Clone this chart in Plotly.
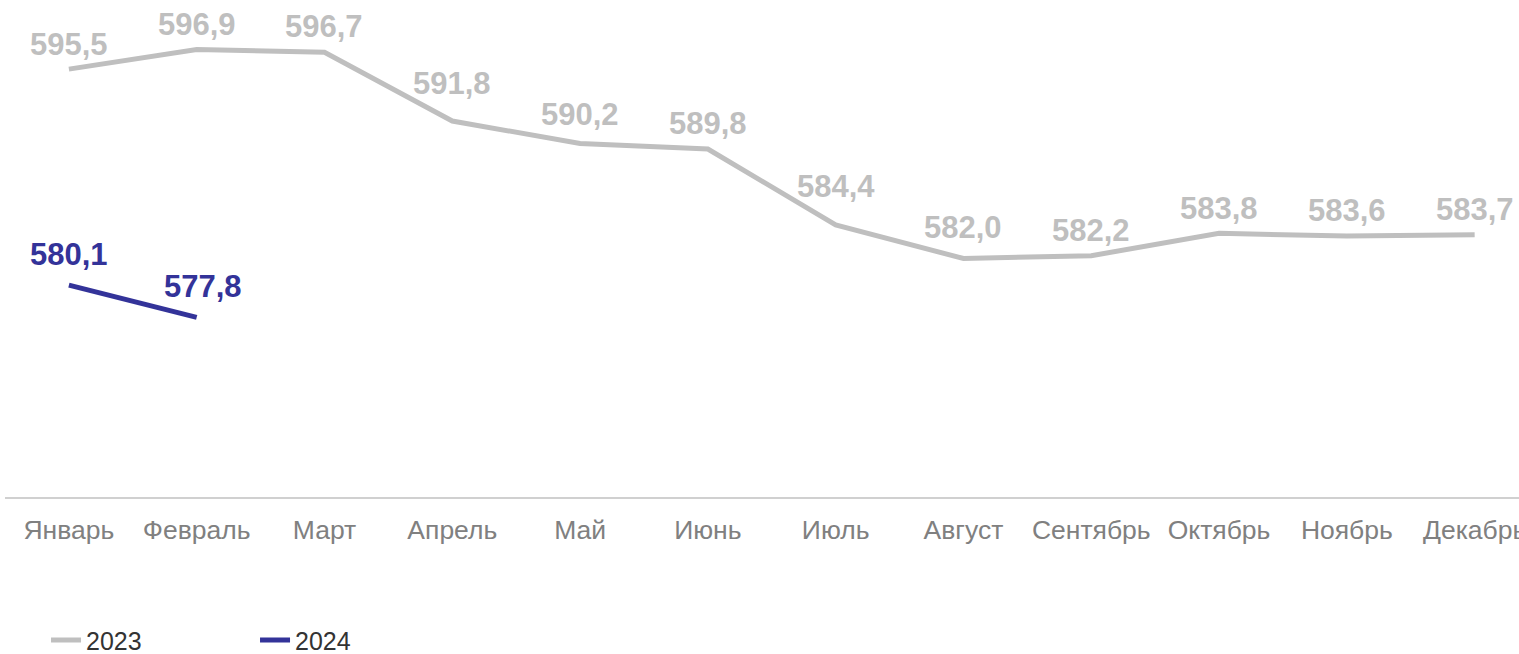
import plotly.graph_objects as go

months = ["Январь", "Февраль", "Март", "Апрель", "Май", "Июнь",
          "Июль", "Август", "Сентябрь", "Октябрь", "Ноябрь", "Декабрь"]
values_2023 = [595.5, 596.9, 596.7, 591.8, 590.2, 589.8,
               584.4, 582.0, 582.2, 583.8, 583.6, 583.7]
values_2024 = [580.1, 577.8]

GRAY = "#bfbfbf"
NAVY = "#333399"
FONT = "Liberation Sans, Arial, sans-serif"


def fmt(v):
    return f"{v:.1f}".replace(".", ",")


fig = go.Figure()
fig.add_trace(go.Scatter(
    x=months, y=values_2023, mode="lines", name="2023",
    line=dict(color=GRAY, width=5), hoverinfo="skip"))
fig.add_trace(go.Scatter(
    x=months[:len(values_2024)], y=values_2024, mode="lines", name="2024",
    line=dict(color=NAVY, width=5), hoverinfo="skip"))

# data labels above points (extra lift where the line arrives from above)
for i, v in enumerate(values_2023):
    drop = max(0.0, values_2023[i - 1] - v) if i > 0 else 0.0
    fig.add_annotation(x=months[i], y=v, text=fmt(v), showarrow=False,
                       yshift=25 + 2.5 * drop,
                       font=dict(family=FONT, size=31, color=GRAY, weight=700))
for i, v in enumerate(values_2024):
    fig.add_annotation(x=months[i], y=v, text=fmt(v), showarrow=False,
                       yshift=31, xshift=0 if i == 0 else 6,
                       font=dict(family=FONT, size=31, color=NAVY, weight=700))

fig.update_layout(
    width=1519, height=654,
    margin=dict(l=5, r=0, t=6, b=157),
    paper_bgcolor="white", plot_bgcolor="white",
    font=dict(family=FONT),
    showlegend=True,
    legend=dict(orientation="h", xref="container", yref="container",
                x=0.0303, y=0.021, xanchor="left", yanchor="middle",
                font=dict(family=FONT, size=25, color="#333333"),
                entrywidth=164, itemwidth=30),
    xaxis=dict(type="category", range=[-0.5, 11.347], automargin=False,
               showgrid=False, zeroline=False,
               showline=True, linecolor="#d0d0d0", linewidth=2,
               ticks="outside", ticklen=8, tickcolor="rgba(0,0,0,0)",
               tickfont=dict(family=FONT, size=26.5, color="#808080")),
    yaxis=dict(range=[565, 600], visible=False, showgrid=False,
               zeroline=False, automargin=False),
)

fig.write_html(
    "out.html",
    config={"displayModeBar": False},
    post_script="document.body.style.margin='0';"
                "document.body.style.overflow='hidden';",
)
